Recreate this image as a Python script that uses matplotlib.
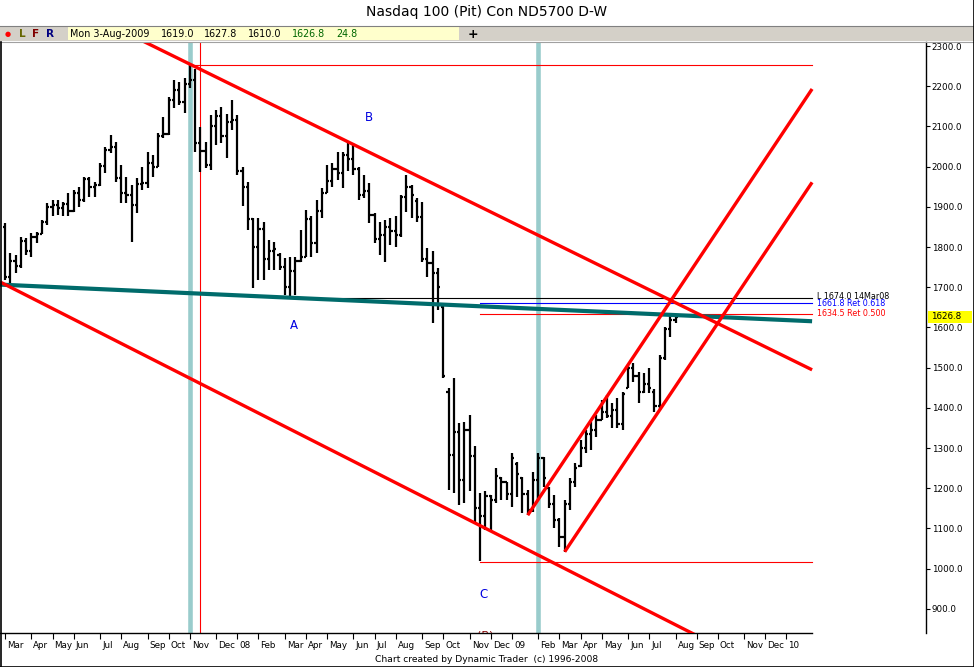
import numpy as np
import pandas as pd
import matplotlib
matplotlib.use("Agg")
import matplotlib.pyplot as plt
import matplotlib.dates as mdates
import matplotlib.transforms as mtransforms
from matplotlib.collections import LineCollection
from matplotlib.patches import Rectangle
from matplotlib.lines import Line2D

plt.rcParams['font.family'] = ['DejaVu Sans']

# weekly bars, Nasdaq 100 futures, first week ends Fri 2-Mar-2007
first_week = '2007-03-02'
opens = [1850, 1726, 1765, 1752, 1815, 1790, 1825, 1833, 1862, 1900,
         1904, 1898, 1906, 1890, 1935, 1918, 1968, 1950, 1955, 2002,
         2042, 2050, 1972, 1935, 1930, 1905, 1958, 1960, 2010, 2000,
         2075, 2080, 2165, 2190, 2162, 2205, 2215, 2060, 2040, 2005,
         2100, 2125, 2075, 2110, 2115, 1990, 1950, 1870, 1800, 1845,
         1770, 1790, 1780, 1750, 1700, 1740, 1765, 1775, 1870, 1810,
         1890, 1935, 1965, 1995, 1985, 2030, 2020, 1995, 1930, 1940,
         1880, 1820, 1830, 1850, 1840, 1830, 1925, 1950, 1915, 1875,
         1770, 1760, 1735, 1650, 1440, 1283, 1340, 1220, 1345, 1280,
         1150, 1130, 1180, 1170, 1225, 1215, 1185, 1260, 1225, 1185,
         1145, 1220, 1275, 1200, 1160, 1120, 1080, 1160, 1215, 1255,
         1300, 1335, 1345, 1370, 1390, 1380, 1395, 1360, 1450, 1500,
         1480, 1440, 1460, 1440, 1405, 1525, 1595, 1619.0]
highs = [1859, 1784, 1780, 1826, 1822, 1834, 1838, 1867, 1909, 1917,
         1917, 1913, 1934, 1942, 1950, 1975, 1975, 1963, 2008, 2050,
         2079, 2062, 2004, 1975, 1954, 1971, 2000, 2037, 2029, 2083,
         2124, 2174, 2215, 2211, 2220, 2252, 2244, 2099, 2062, 2128,
         2141, 2149, 2132, 2166, 2128, 1998, 1963, 1872, 1872, 1863,
         1818, 1813, 1784, 1772, 1776, 1776, 1842, 1892, 1876, 1917,
         1946, 2004, 2008, 2037, 2037, 2060, 2058, 2000, 1979, 1959,
         1885, 1863, 1867, 1871, 1876, 1929, 1980, 1954, 1921, 1913,
         1797, 1789, 1747, 1656, 1449, 1474, 1362, 1366, 1382, 1304,
         1187, 1192, 1183, 1250, 1229, 1216, 1287, 1266, 1229, 1196,
         1241, 1287, 1279, 1204, 1183, 1125, 1171, 1225, 1262, 1320,
         1345, 1366, 1382, 1420, 1432, 1411, 1424, 1440, 1507, 1511,
         1490, 1486, 1498, 1448, 1531, 1602, 1635, 1627.8]
lows = [1718, 1710, 1735, 1748, 1780, 1776, 1809, 1832, 1855, 1876,
        1880, 1876, 1876, 1888, 1900, 1913, 1925, 1925, 1952, 1983,
        2035, 1963, 1909, 1909, 1813, 1885, 1942, 1946, 1975, 1998,
        2070, 2078, 2145, 2153, 2133, 2195, 2037, 1987, 1996, 1992,
        2054, 2058, 2021, 2091, 1979, 1902, 1842, 1697, 1718, 1718,
        1743, 1743, 1743, 1681, 1674, 1680, 1763, 1775, 1776, 1784,
        1871, 1935, 1950, 1967, 1946, 1988, 1979, 1917, 1921, 1859,
        1809, 1780, 1764, 1805, 1801, 1826, 1888, 1871, 1863, 1764,
        1726, 1610, 1643, 1474, 1196, 1187, 1158, 1163, 1192, 1117,
        1018, 1096, 1092, 1163, 1171, 1171, 1154, 1179, 1138, 1133,
        1140, 1171, 1204, 1150, 1100, 1055, 1042, 1146, 1204, 1254,
        1287, 1295, 1328, 1370, 1374, 1349, 1349, 1345, 1449, 1465,
        1411, 1436, 1436, 1390, 1395, 1520, 1577, 1610.0]
closes = [1726, 1765, 1752, 1815, 1790, 1825, 1833, 1862, 1900, 1904,
          1898, 1906, 1890, 1935, 1918, 1968, 1950, 1955, 2002, 2042,
          2050, 1972, 1935, 1930, 1905, 1958, 1960, 2010, 2000, 2075,
          2080, 2165, 2190, 2162, 2205, 2215, 2060, 2040, 2005, 2100,
          2125, 2075, 2110, 2115, 1990, 1950, 1870, 1800, 1845, 1770,
          1790, 1795, 1750, 1700, 1740, 1765, 1775, 1870, 1810, 1890,
          1935, 1965, 1995, 1985, 2030, 2020, 1995, 1930, 1940, 1880,
          1820, 1830, 1850, 1840, 1830, 1925, 1950, 1930, 1875, 1770,
          1760, 1735, 1700, 1478, 1283, 1340, 1220, 1345, 1280, 1150,
          1130, 1180, 1170, 1230, 1215, 1185, 1275, 1235, 1185, 1145,
          1220, 1275, 1225, 1160, 1120, 1080, 1160, 1215, 1250, 1300,
          1335, 1345, 1370, 1390, 1380, 1395, 1360, 1435, 1500, 1480,
          1440, 1460, 1450, 1405, 1525, 1595, 1618, 1626.8]

# drawn lines: two anchor points (date, price) each
down_top = [('2007-11-02', 2255), ('2008-06-06', 2055)]
down_bottom = [('2007-03-02', 1707), ('2008-11-21', 1107)]
teal_line = [('2007-03-02', 1706), ('2008-03-14', 1674)]
chan_top = [('2009-01-23', 1133), ('2009-06-05', 1507)]
chan_bottom = [('2009-03-13', 1042), ('2009-07-17', 1395)]
lines_end = '2010-02-04'

# horizontal levels: price, start date, colour
levels = [(2252.7, '2007-11-09', 'red'),
          (1674.0, '2008-03-14', 'black'),
          (1661.8, '2008-11-21', 'blue'),
          (1634.5, '2008-11-21', 'red'),
          (1017.5, '2008-11-21', 'red')]
level_labels = [('L 1674.0 14Mar08', 1676.0, 'black'),
                ('1661.8 Ret 0.618', 1660.8, 'blue'),
                ('1634.5 Ret 0.500', 1634.5, 'red')]
teal_days = ['2007-11-02', '2009-02-06']
red_day = '2007-11-16'
wave_labels = [('B', '2008-06-26', 2121), ('A', '2008-03-19', 1606), ('C', '2008-11-26', 937)]
last_price = 1626.8

W, H = 974, 667
fig = plt.figure(figsize=(W / 100, H / 100), dpi=100)
ax = fig.add_axes([0, (H - 633) / H, 926 / W, (633 - 42) / H])

dates = pd.date_range(first_week, periods=len(closes), freq='W-FRI')
xs = mdates.date2num(dates)
d2n = lambda s: mdates.date2num(pd.Timestamp(s))
x_end = d2n(lines_end)
xmin, xmax = xs[0] - 6.6, xs[0] + 1221

# OHLC bars
tk = 2.9
segs = []
for x, o, h, l, c in zip(xs, opens, highs, lows, closes):
    segs.append([(x, l), (x, h)])
    segs.append([(x - tk, o), (x, o)])
    segs.append([(x, c), (x + tk, c)])
ax.add_collection(LineCollection(segs, colors='black', linewidths=1.6,
                                 capstyle='butt', zorder=3))

# vertical date markers
for d in teal_days:
    ax.axvline(d2n(d), color='#99cccc', lw=3.3, zorder=1)
ax.axvline(d2n(red_day), color='red', lw=0.8, zorder=1)

# horizontal levels
for p, start, col in levels:
    ax.plot([d2n(start), x_end], [p, p], color=col, lw=0.8, zorder=2)


def through(anchors, x_from, x_to):
    (da, pa), (db, pb) = anchors
    xa, xb = d2n(da), d2n(db)
    k = (pb - pa) / (xb - xa)
    return [x_from, x_to], [pa + k * (x_from - xa), pa + k * (x_to - xa)]


ax.plot(*through(teal_line, xmin, x_end), color='#006b6b', lw=3.0, zorder=4,
        solid_capstyle='butt')
for anchors in (down_top, down_bottom):
    ax.plot(*through(anchors, xmin, x_end), color='red', lw=2.4, zorder=5,
            solid_capstyle='butt')
for anchors in (chan_top, chan_bottom):
    ax.plot(*through(anchors, d2n(anchors[0][0]), x_end), color='red', lw=2.4,
            zorder=5, solid_capstyle='butt')

for txt, d, p in wave_labels:
    ax.text(d2n(d), p, txt, color='#0000e0', fontsize=8.5, ha='center', va='center')
ax.text(d2n('2008-11-27'), 846, '(B)', color='#800000', fontsize=8,
        ha='center', va='top', clip_on=True)

for txt, p, col in level_labels:
    ax.text(x_end + 7, p, txt, color=col, fontsize=5.8, ha='left', va='center')

ax.set_xlim(xmin, xmax)
ax.set_ylim(840, 2310)

# axes styling
for s in ('top', 'left'):
    ax.spines[s].set_visible(False)
ax.spines['bottom'].set_bounds(xmin, x_end)
ax.spines['bottom'].set_linewidth(1.0)
ax.spines['right'].set_linewidth(1.0)

ax.yaxis.tick_right()
yt = np.arange(900, 2301, 100)
ax.set_yticks(yt, [f'{v:.1f}' for v in yt])
ax.tick_params(axis='y', direction='out', length=3, width=0.8, pad=1, labelsize=6.3)

fridays = pd.date_range('2007-03-01', '2010-01-31', freq='W-FRI')
firsts = fridays.to_series().groupby(fridays.to_period('M')).first()
xt = mdates.date2num(firsts.values)
xl = [d.strftime('%y') if d.month == 1 else d.strftime('%b') for d in firsts]
ax.set_xticks(xt, xl)
ax.tick_params(axis='x', direction='out', length=4, width=0.8, pad=1.5, labelsize=6.3)
shift = mtransforms.ScaledTranslation(2 / 100, 0, fig.dpi_scale_trans)
for lbl in ax.get_xticklabels():
    lbl.set_horizontalalignment('left')
    lbl.set_transform(lbl.get_transform() + shift)

# last price flag on the price scale
flag = mtransforms.blended_transform_factory(ax.transAxes, ax.transData)
ax.add_patch(Rectangle((1.002, last_price - 15), 44 / 926, 30, transform=flag,
                       facecolor='yellow', edgecolor='none', clip_on=False, zorder=6))
ax.text(1.005, last_price, f'{last_price:.1f}', transform=flag, fontsize=6.3,
        ha='left', va='center', zorder=7)


# header / frame, pixel positions on the figure
def fy(py):
    return 1 - py / H


fig.add_artist(Rectangle((0, fy(41)), 1, 15 / H, transform=fig.transFigure,
                         facecolor='#d4d0c8', edgecolor='none'))
fig.add_artist(Rectangle((68 / W, fy(40)), 391 / W, 13 / H, transform=fig.transFigure,
                         facecolor='#ffffcc', edgecolor='none'))
fig.add_artist(Line2D([0, 1], [fy(26), fy(26)], color='#808080', lw=0.8))
fig.add_artist(Line2D([0, 1], [fy(41.5), fy(41.5)], color='#a0a0a0', lw=0.8))
fig.add_artist(Line2D([0.5 / W, 0.5 / W], [0, fy(41.5)], color='black', lw=1.2))
fig.add_artist(Line2D([1 - 0.5 / W, 1 - 0.5 / W], [0, 1], color='black', lw=1.2))
fig.add_artist(Line2D([0, 1], [0.5 / H, 0.5 / H], color='black', lw=1.2))

fig.text(487 / W, fy(12), 'Nasdaq 100 (Pit) Con ND5700 D-W', fontsize=10,
         ha='center', va='center')
fig.text(8 / W, fy(34), '●', color='red', fontsize=5, ha='center', va='center')
for txt, px, col in (('L', 22, '#666600'), ('F', 36, '#800000'), ('R', 50, '#000080')):
    fig.text(px / W, fy(34), txt, color=col, fontsize=7.5, fontweight='bold',
             ha='center', va='center')
header = [('Mon 3-Aug-2009', 70, 'black'), ('1619.0', 161, 'black'),
          ('1627.8', 204, 'black'), ('1610.0', 248, 'black'),
          ('1626.8', 292, '#006600'), ('24.8', 336, '#006600')]
for txt, px, col in header:
    fig.text(px / W, fy(34), txt, color=col, fontsize=6.9, ha='left', va='center')
fig.text(473 / W, fy(34), '+', fontsize=9, fontweight='bold', ha='center', va='center')
fig.text(487 / W, fy(659), 'Chart created by Dynamic Trader  (c) 1996-2008',
         fontsize=6.6, ha='center', va='center')

fig.savefig('out.png', dpi=100)
